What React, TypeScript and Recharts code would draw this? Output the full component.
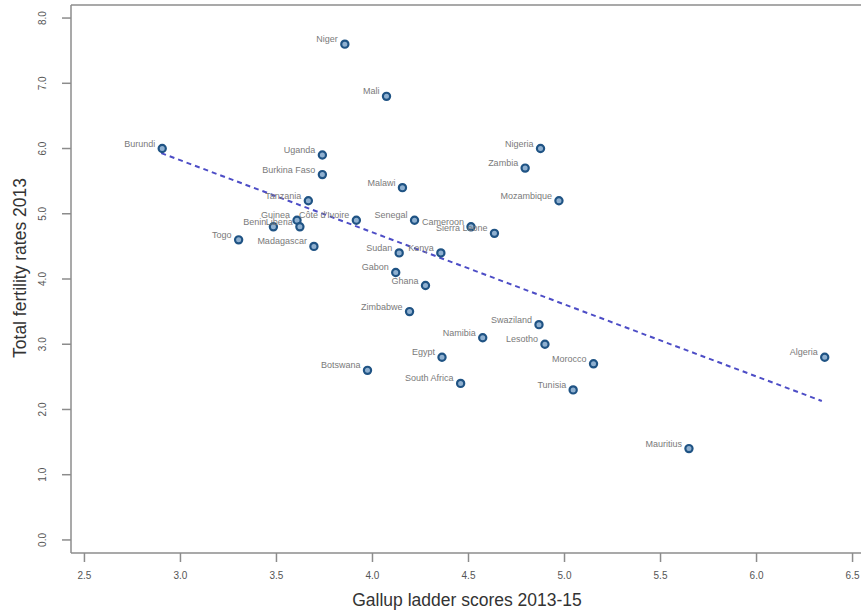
import { ReferenceLine, Scatter, ScatterChart, XAxis, YAxis } from "recharts";

const countries = [
  "Niger", "Mali", "Burundi", "Uganda", "Burkina Faso", "Malawi", "Nigeria", "Zambia",
  "Mozambique", "Tanzania", "Senegal", "Cameroon", "Sierra Leone", "Côte d'Ivoire", "Guinea",
  "Benin", "Liberia", "Togo", "Madagascar", "Sudan", "Kenya", "Gabon", "Ghana", "Zimbabwe",
  "Swaziland", "Namibia", "Lesotho", "Egypt", "Morocco", "South Africa", "Tunisia", "Botswana",
  "Mauritius", "Algeria"
];
const ladderScores = [
  3.856, 4.073, 2.905, 3.739, 3.739, 4.156, 4.875, 4.795,
  4.971, 3.666, 4.219, 4.513, 4.635, 3.916, 3.607,
  3.484, 3.622, 3.303, 3.695, 4.139, 4.356, 4.121, 4.276, 4.193,
  4.867, 4.574, 4.898, 4.362, 5.151, 4.459, 5.045, 3.974,
  5.648, 6.355
];
const fertilityRates = [
  7.6, 6.8, 6.0, 5.9, 5.6, 5.4, 6.0, 5.7,
  5.2, 5.2, 4.9, 4.8, 4.7, 4.9, 4.9,
  4.8, 4.8, 4.6, 4.5, 4.4, 4.4, 4.1, 3.9, 3.5,
  3.3, 3.1, 3.0, 2.8, 2.7, 2.4, 2.3, 2.6,
  1.4, 2.8
];
const fitX = [2.9, 6.34];
const fitY = [5.93, 2.13];
const xTicks = [2.5, 3.0, 3.5, 4.0, 4.5, 5.0, 5.5, 6.0, 6.5];
const yTicks = [0, 1, 2, 3, 4, 5, 6, 7, 8];

const points = countries.map((name, i) => ({ name, x: ladderScores[i], y: fertilityRates[i] }));
const fitLine = fitX.map((x, i) => ({ x, y: fitY[i] }));

const font = "Arial, 'Liberation Sans', sans-serif";
const axisGray = "#8c8c8c";

function CountryDot(props: any) {
  const { cx, cy, payload } = props;
  return (
    <g>
      <text x={cx - 7} y={cy - 2} textAnchor="end" fontSize={9} fill="#7a7a7a" fontFamily={font}>
        {payload.name}
      </text>
      <circle cx={cx} cy={cy} r={3.6} fill="#8fb0d0" stroke="#1f5384" strokeWidth={2.2} />
    </g>
  );
}

function YTick(props: any) {
  const { y, payload } = props;
  return (
    <text x={46} y={y} transform={`rotate(-90 46 ${y})`} textAnchor="middle" fontSize={10} fill="#555" fontFamily={font}>
      {Number(payload.value).toFixed(1)}
    </text>
  );
}

function XTick(props: any) {
  const { x, payload } = props;
  return (
    <text x={x} y={579} textAnchor="middle" fontSize={10} fill="#555" fontFamily={font}>
      {Number(payload.value).toFixed(1)}
    </text>
  );
}

export default function App() {
  return (
    <div style={{ position: "absolute", left: 0, top: 0, width: 861, height: 613, overflow: "hidden", background: "#fff" }}>
      <ScatterChart width={870} height={613} margin={{ top: 5, right: 4, left: 0, bottom: 0 }}>
        <XAxis
          type="number"
          dataKey="x"
          domain={[2.43, 6.57]}
          ticks={xTicks}
          tick={<XTick />}
          tickSize={9}
          height={60}
          stroke={axisGray}
          strokeWidth={1.5}
          label={{
            content: () => (
              <text x={467} y={606} textAnchor="middle" fontSize={17.5} fill="#333" fontFamily={font}>
                Gallup ladder scores 2013-15
              </text>
            )
          }}
        />
        <YAxis
          type="number"
          dataKey="y"
          domain={[-0.2, 8.2]}
          ticks={yTicks}
          tick={<YTick />}
          tickSize={9}
          width={71}
          stroke={axisGray}
          strokeWidth={1.5}
          label={{
            content: () => (
              <text x={26} y={268} transform="rotate(-90 26 268)" textAnchor="middle" fontSize={17.5} fill="#333" fontFamily={font}>
                Total fertility rates 2013
              </text>
            )
          }}
        />
        <ReferenceLine y={8.2} stroke={axisGray} strokeWidth={1.5} />
        <ReferenceLine x={6.57} stroke={axisGray} strokeWidth={1.5} />
        <Scatter
          data={fitLine}
          line={{ stroke: "#4d4dc6", strokeWidth: 2, strokeDasharray: "5 4" }}
          shape={() => <g />}
          isAnimationActive={false}
        />
        <Scatter data={points} shape={<CountryDot />} isAnimationActive={false} />
      </ScatterChart>
    </div>
  );
}
